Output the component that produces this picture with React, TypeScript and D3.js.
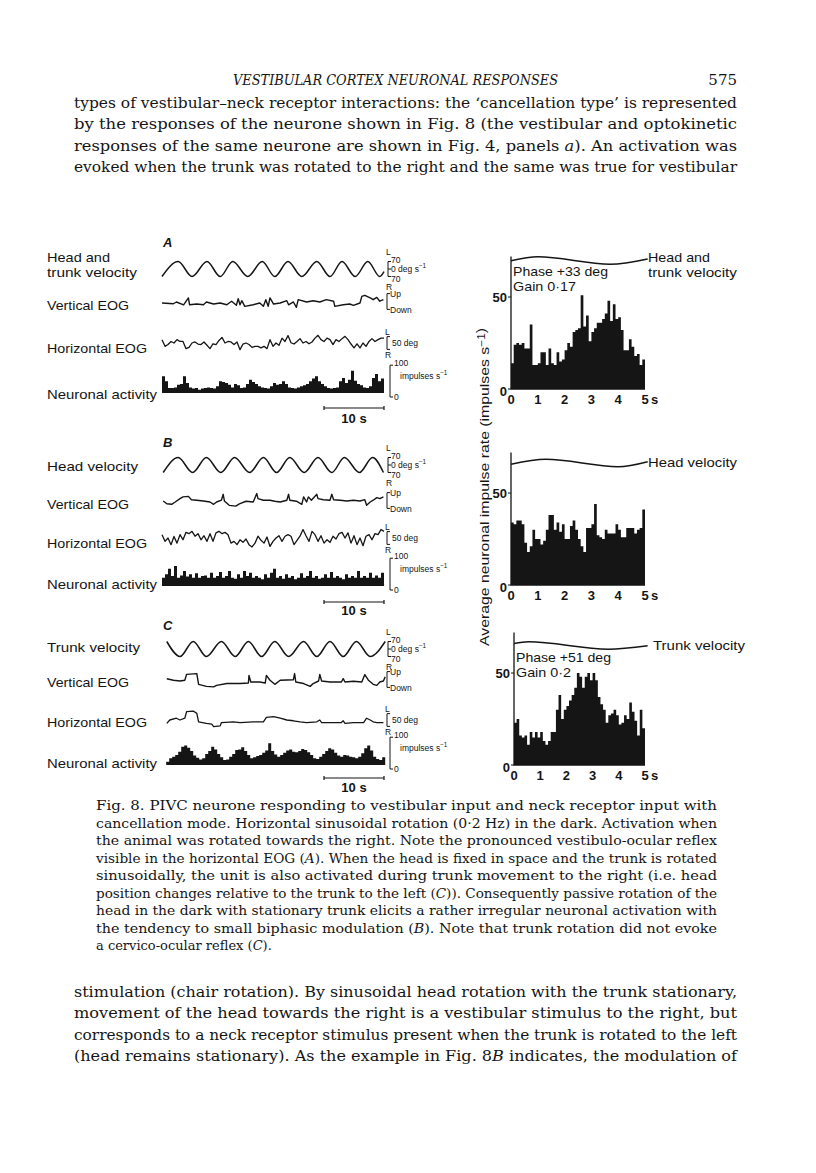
import React from 'react';
import * as d3 from 'd3';

const INK = '#151515';
const SANS = '"Liberation Sans", Arial, Helvetica, sans-serif';
const SERIF = '"DejaVu Serif", "Liberation Serif", serif';

// ---------- page text ----------
const HEADER = 'VESTIBULAR CORTEX NEURONAL RESPONSES';
const PAGE_NO = '575';
// _x_ marks italic
const TOP_LINES = [
  'types of vestibular–neck receptor interactions: the ‘cancellation type’ is represented',
  'by the responses of the neurone shown in Fig. 8 (the vestibular and optokinetic',
  'responses of the same neurone are shown in Fig. 4, panels _a_). An activation was',
  'evoked when the trunk was rotated to the right and the same was true for vestibular',
];
const CAPTION_LINES = [
  'Fig. 8. PIVC neurone responding to vestibular input and neck receptor input with',
  'cancellation mode. Horizontal sinusoidal rotation (0·2 Hz) in the dark. Activation when',
  'the animal was rotated towards the right. Note the pronounced vestibulo-ocular reflex',
  'visible in the horizontal EOG (_A_). When the head is fixed in space and the trunk is rotated',
  'sinusoidally, the unit is also activated during trunk movement to the right (i.e. head',
  'position changes relative to the trunk to the left (_C_)). Consequently passive rotation of the',
  'head in the dark with stationary trunk elicits a rather irregular neuronal activation with',
  'the tendency to small biphasic modulation (_B_). Note that trunk rotation did not evoke',
  'a cervico-ocular reflex (_C_).',
];
const BOTTOM_LINES = [
  'stimulation (chair rotation). By sinusoidal head rotation with the trunk stationary,',
  'movement of the head towards the right is a vestibular stimulus to the right, but',
  'corresponds to a neck receptor stimulus present when the trunk is rotated to the left',
  '(head remains stationary). As the example in Fig. 8_B_ indicates, the modulation of',
];

// ---------- left column traces (time in s) ----------
// stimulus velocity turning points [t, deg/s]
const velA = [[0, -70], [2.7, 70], [5, -70], [7.5, 70], [9.7, -70], [11.8, 70], [14.3, -70], [16.7, 70], [18.8, -70], [21, 70], [23.3, -70], [25.8, 70], [28, -70], [30, 70], [32.2, -70], [34.3, 70], [36.3, -70], [37, -25]];
const velB = [[0.2, -70], [2.7, 70], [5.1, -70], [7.4, 70], [9.8, -70], [12.1, 70], [14.6, -70], [16.9, 70], [19.1, -70], [21.3, 70], [23.7, -70], [26, 70], [28.3, -70], [30.4, 70], [32.9, -70], [35.1, 70], [36.9, -70]];
const velC = [[0.8, 70], [3, -70], [5.2, 70], [7.4, -70], [9.9, 70], [12.2, -70], [14.4, 70], [16.6, -70], [18.8, 70], [21.1, -70], [23.6, 70], [25.8, -70], [28, 70], [30.2, -70], [32.4, 70], [34.7, -70], [37.2, 70]];

// vertical EOG [t, deg]
const vEogA = [[0, 0], [1.9, -3], [2.4, 4], [3.6, -7], [4.4, 20], [4.6, -7], [5.8, -4], [6.9, -7], [7.4, 4], [8.6, -4], [9.7, 0], [10.8, -7], [11.6, 7], [12.4, -9], [12.7, 17], [13, -7], [13.3, 9], [13.8, -13], [15.2, -7], [16.3, 0], [16.9, -13], [17.3, 13], [17.7, -13], [18, 20], [18.6, -4], [19.7, 0], [20.8, 9], [21.1, -7], [21.9, 4], [22.4, -17], [22.7, 13], [24.1, 4], [25.2, 9], [26.3, 4], [27.4, 13], [28.6, 7], [28.8, -13], [30.2, -7], [31.3, -4], [31.9, -9], [33, 0], [33.3, 26], [33.8, 30], [34.7, 20], [35.2, 13], [35.8, 22], [36.3, 7], [36.9, 13]];
const vEogB = [[0.2, 4], [0.8, -7], [1.6, -9], [2.2, 0], [3, 13], [3.5, 20], [4.4, 22], [4.9, 9], [5.8, 7], [6.9, 4], [8, 0], [8.6, -9], [9.1, 0], [9.9, 7], [10.2, 30], [10.4, 4], [11.2, -13], [12.3, -16], [12.9, -7], [14, 3], [15.2, 0], [15.8, 33], [16, 13], [16.9, 7], [18, 7], [18.8, 3], [19.7, 0], [20.8, 7], [21.1, 30], [21.3, 7], [22.4, 3], [23.3, -9], [23.6, 20], [24.1, 0], [24.4, 20], [24.9, 7], [25.8, 30], [26, 13], [26.9, 9], [28, 7], [28.3, 30], [28.6, 9], [29.7, 7], [30.8, 4], [31.9, 7], [33, 4], [33.8, 9], [34.1, -13], [34.7, 0], [35.2, 7], [35.8, 17], [36.3, 13], [36.9, 20]];
const vEogC = [[0.8, 9], [1.9, 3], [3, 0], [3.8, 3], [4.1, 26], [5.8, 29], [6.1, -13], [7.4, -21], [8.6, -23], [9.1, -17], [10.8, -10], [13, -10], [14.4, -8], [14.5, 22], [14.8, -4], [16.3, -4], [17.2, -8], [17.4, 22], [18, 3], [18.8, -13], [19.7, 3], [21.9, 5], [22.1, 29], [22.3, -4], [23.6, -10], [24.7, -21], [25.2, -10], [26.1, 0], [26.3, 26], [26.6, 0], [28, -4], [29.9, -4], [30.2, 9], [30.5, -4], [31.9, -1], [33.3, -4], [33.8, 25], [34.4, 3], [35.2, -13], [35.8, -17], [36.3, -4], [36.9, 0], [37.2, 16]];

// horizontal EOG, sampled every 0.5 s (deg)
const EOG_STEP = 0.5;
const hEogA = [13, -13, -6, 6, 0, 13, 6, 6, -22, -17, 0, 4, -4, -6, 4, -9, -22, -3, -6, 10, 22, 0, 6, 4, -6, 4, -26, -4, 0, -6, -17, -13, -13, -19, -13, -22, 13, -13, 0, -9, 19, 6, 29, 1, -4, 6, 17, 0, 6, -3, 4, 19, 30, 13, 6, 19, 13, -6, 13, 6, 17, 26, 13, -4, -19, -3, -19, 0, -13, 6, 17, 6, 13, 19, 19];
const hEogB = [13, -13, 0, -26, 6, -20, 13, -7, 22, 17, 26, 7, 17, -7, 9, -13, 17, -13, 20, 26, 17, 22, 13, -20, -13, -26, -7, -17, -4, -26, -35, -20, 7, -9, -20, 4, -33, -13, 0, 9, -13, 7, 13, 7, -26, -9, 7, 33, 9, -13, 26, 13, -13, 9, -20, -7, -17, 7, -4, 17, 22, 0, 20, -20, 9, -26, 0, -30, 7, 13, -7, 17, 13, 33, 26];
const hEogC = [[0.8, -13], [1.3, 0], [2.4, 7], [3, 0], [3.8, 7], [4.1, 33], [5.2, 35], [5.8, 26], [6.1, -7], [7.4, -13], [8.3, -16], [8.6, -26], [9.7, -23], [9.9, -10], [11.9, -7], [13, -10], [15.2, -7], [16.9, -7], [17.4, 10], [18.6, 13], [19.7, 7], [20.8, 0], [21.9, -3], [23, -7], [24.1, -10], [25.8, -7], [26.3, 0], [26.6, -10], [28.6, -10], [29.9, -10], [30.2, -3], [30.5, -13], [31.9, -10], [33.6, -10], [34.1, 7], [34.7, 0], [35.2, -7], [35.8, -10], [36.9, -10]];

// neuronal activity, 0.5 s bins (impulses/s)
const ACT_STEP = 0.5;
const actA = [60, 42, 18, 18, 20, 30, 32, 60, 36, 20, 16, 18, 12, 16, 18, 20, 18, 16, 24, 42, 40, 36, 30, 20, 32, 28, 18, 20, 32, 48, 40, 32, 24, 20, 18, 16, 24, 36, 30, 32, 42, 32, 20, 18, 16, 20, 24, 28, 32, 42, 52, 60, 42, 32, 24, 18, 16, 18, 20, 42, 54, 36, 48, 80, 44, 32, 28, 20, 18, 24, 54, 68, 42, 52];
const actB = [30, 42, 62, 36, 72, 30, 38, 54, 34, 42, 30, 46, 30, 36, 38, 30, 48, 30, 36, 50, 30, 36, 54, 30, 26, 42, 30, 54, 36, 48, 30, 36, 30, 24, 42, 30, 48, 62, 30, 36, 26, 42, 30, 36, 24, 30, 46, 30, 36, 54, 30, 36, 26, 30, 42, 30, 50, 30, 36, 30, 24, 42, 30, 36, 30, 54, 30, 36, 30, 48, 30, 38, 30, 48];
const actC = [12, 24, 30, 36, 48, 66, 70, 62, 50, 34, 26, 20, 24, 40, 50, 66, 56, 40, 28, 18, 20, 30, 40, 54, 56, 64, 50, 36, 24, 28, 32, 36, 44, 52, 78, 50, 38, 30, 36, 44, 52, 56, 48, 46, 50, 58, 54, 46, 36, 24, 22, 30, 40, 50, 60, 56, 44, 34, 30, 36, 34, 30, 28, 24, 30, 42, 60, 70, 52, 30, 22, 18, 28];

// ---------- right column: averaged cycle histograms (0.1 s bins) ----------
const BIN = 0.1;
const histA = [14, 24, 25, 24, 25, 22, 22, 35, 13, 13, 14, 20, 20, 13, 22, 14, 13, 20, 15, 16, 21, 25, 23, 31, 32, 33, 51, 34, 40, 26, 31, 33, 36, 36, 38, 41, 48, 37, 46, 38, 39, 32, 21, 21, 27, 23, 18, 19, 13, 16];
const histB = [34, 33, 35, 35, 33, 23, 18, 21, 30, 25, 25, 22, 24, 30, 38, 38, 30, 34, 29, 33, 25, 25, 32, 35, 30, 25, 21, 18, 31, 31, 33, 44, 27, 26, 25, 30, 28, 28, 28, 33, 30, 26, 26, 31, 31, 31, 28, 30, 31, 41];
const histC = [23, 25, 16, 15, 16, 11, 18, 15, 18, 15, 18, 13, 11, 13, 18, 18, 30, 38, 25, 30, 32, 35, 38, 42, 50, 48, 42, 48, 50, 46, 50, 46, 37, 33, 30, 23, 27, 28, 30, 27, 22, 23, 27, 25, 34, 29, 24, 16, 30, 20];
// stimulus velocity over one cycle, turning points [t, deg/s]
const cycVelA = [[0, -5], [1.0, 70], [3.7, -70], [5.1, 30]];
const cycVelB = [[0, -25], [1.3, 70], [4.0, -70], [5.1, 25]];
const cycVelC = [[0, 40], [0.55, 70], [3.6, -70], [5.1, -5]];
const X_TICKS = [0, 1, 2, 3, 4, 5];
const Y_TICKS = [0, 50];

// ---------- helpers ----------
function Rich({ s }: { s: string }) {
  const parts = s.split('_');
  return (
    <>
      {parts.map((p, i) => (
        <tspan key={i} fontStyle={i % 2 ? 'italic' : undefined}>{p}</tspan>
      ))}
    </>
  );
}

function Para({ lines, x, y0, lh, width, size, justifyLast }: any) {
  return (
    <g fontFamily={SERIF} fontSize={size} fill={INK}>
      {lines.map((l: string, i: number) => {
        const last = i === lines.length - 1;
        const tl = last && !justifyLast ? undefined : width;
        return (
          <text key={i} x={x} y={y0 + i * lh} textLength={tl} lengthAdjust={tl ? 'spacingAndGlyphs' : undefined}>
            <Rich s={l} />
          </text>
        );
      })}
    </g>
  );
}

const Sup = ({ children }: any) => (
  <tspan dy={-4} fontSize="0.75em">{children}</tspan>
);

const xT = d3.scaleLinear().domain([0, 37]).range([162, 384]);
const SCALE_BAR = [27, 37];

function Label({ x, y, w, children }: any) {
  return (
    <text x={x} y={y} textLength={w} lengthAdjust="spacingAndGlyphs" fontFamily={SANS} fontSize={13} fill={INK}>
      {children}
    </text>
  );
}

function Panel({ p }: any) {
  const yVel = d3.scaleLinear().domain([-70, 70]).range([p.velY + 7.5, p.velY - 7.5]);
  const yV = d3.scaleLinear().domain([-50, 50]).range([p.vEogY + 12.8, p.vEogY - 12.8]);
  const yH = d3.scaleLinear().domain([-50, 50]).range([p.hEogY + 12.8, p.hEogY - 12.8]);
  const yAct = d3.scaleLinear().domain([0, 100]).range([p.actY, p.actY - 27.8]);

  const lineOf = (ys: any) => d3.line<any>().x((d) => xT(d[0])).y((d) => ys(d[1]));
  const velPath = lineOf(yVel).curve(d3.curveMonotoneX)(p.vel);
  const vPath = lineOf(yV)(p.vEog);
  const hPts = Array.isArray(p.hEog[0]) ? p.hEog : p.hEog.map((v: number, i: number) => [i * EOG_STEP, v]);
  const hPath = lineOf(yH)(hPts);
  const actPts = p.act.map((v: number, i: number) => [p.actT0 + i * ACT_STEP, v]);
  actPts.push([p.actT0 + p.act.length * ACT_STEP, p.act[p.act.length - 1]]);
  const actPath = d3
    .area<any>()
    .x((d) => xT(d[0]))
    .y0(yAct(0))
    .y1((d) => yAct(d[1]))
    .curve(d3.curveStepAfter)(actPts);

  const bx = 388;
  const small = { fontFamily: SANS, fontSize: 8.5, fill: INK } as any;
  const b0 = xT(SCALE_BAR[0]);
  const b1 = xT(SCALE_BAR[1]);

  return (
    <g>
      <text x={163} y={p.letterY} fontFamily={SANS} fontSize={13} fontStyle="italic" fontWeight={700} fill={INK}>
        {p.letter}
      </text>
      {p.velLabel.map((s: string, i: number) => (
        <Label key={i} x={47} y={p.velLabelY[i]} w={p.velLabelW[i]}>{s}</Label>
      ))}
      <Label x={47} y={p.vEogLabelY} w={82}>Vertical EOG</Label>
      <Label x={47} y={p.hEogLabelY} w={100}>Horizontal EOG</Label>
      <Label x={47} y={p.actLabelY} w={110}>Neuronal activity</Label>

      <g fill="none" stroke={INK} strokeWidth={1.5} strokeLinejoin="round">
        <path d={velPath || ''} />
        <path d={vPath || ''} strokeWidth={1.4} />
        <path d={hPath || ''} strokeWidth={1.3} />
      </g>
      <path d={actPath || ''} fill={INK} />

      {/* velocity calibration */}
      <path
        d={`M${bx + 3},${yVel(70)}H${bx}V${yVel(-70)}H${bx + 3}M${bx},${yVel(0)}H${bx + 3}`}
        fill="none" stroke={INK} strokeWidth={1}
      />
      <text {...small} x={bx - 2} y={yVel(70) - 7}>L</text>
      <text {...small} x={bx + 3} y={yVel(70) + 1}>70</text>
      <text {...small} x={bx + 3} y={yVel(0) + 3}>0 deg s<Sup>−1</Sup></text>
      <text {...small} x={bx + 3} y={yVel(-70) + 5}>70</text>
      <text {...small} x={bx - 2} y={yVel(-70) + 13}>R</text>

      {/* vertical EOG calibration */}
      <path
        d={`M${bx + 2},${yV(25) - 3}H${bx - 1}V${yV(-25)}H${bx + 2}`}
        fill="none" stroke={INK} strokeWidth={1}
      />
      <text {...small} x={bx + 2} y={yV(25)}>Up</text>
      <text {...small} x={bx + 2} y={yV(-25) + 4}>Down</text>

      {/* horizontal EOG calibration */}
      <path
        d={`M${bx + 2},${yH(25)}H${bx - 1}V${yH(-25)}H${bx + 2}`}
        fill="none" stroke={INK} strokeWidth={1}
      />
      <text {...small} x={bx - 3} y={yH(25) - 2}>L</text>
      <text {...small} x={bx + 4} y={yH(0) + 3}>50 deg</text>
      <text {...small} x={bx - 3} y={yH(-25) + 9}>R</text>

      {/* activity calibration */}
      <path
        d={`M${bx + 5},${yAct(100)}H${bx + 2}V${yAct(0) + 4}H${bx + 5}`}
        fill="none" stroke={INK} strokeWidth={1}
      />
      <text {...small} x={bx + 6} y={yAct(100) + 1}>100</text>
      <text {...small} x={bx + 12} y={yAct(50)}>impulses s<Sup>−1</Sup></text>
      <text {...small} x={bx + 6} y={yAct(0) + 7}>0</text>

      {/* time bar */}
      <path d={`M${b0},${p.barY - 2}V${p.barY + 2}M${b0},${p.barY}H${b1}M${b1},${p.barY - 2}V${p.barY + 2}`} stroke={INK} strokeWidth={1.2} fill="none" />
      <text x={(b0 + b1) / 2} y={p.barTextY} textAnchor="middle" fontFamily={SANS} fontSize={13} fontWeight={700} fill={INK}>
        10 s
      </text>
    </g>
  );
}

const PANELS = [
  {
    letter: 'A', letterY: 247,
    velLabel: ['Head and', 'trunk velocity'], velLabelY: [262, 277], velLabelW: [63, 90],
    vel: velA, velY: 269,
    vEog: vEogA, vEogY: 303, vEogLabelY: 310,
    hEog: hEogA, hEogY: 343, hEogLabelY: 353,
    act: actA, actT0: 0, actY: 393, actLabelY: 399,
    barY: 408, barTextY: 423,
  },
  {
    letter: 'B', letterY: 447,
    velLabel: ['Head velocity'], velLabelY: [471], velLabelW: [91],
    vel: velB, velY: 465,
    vEog: vEogB, vEogY: 502, vEogLabelY: 509,
    hEog: hEogB, hEogY: 538, hEogLabelY: 548,
    act: actB, actT0: 0, actY: 586, actLabelY: 589,
    barY: 602, barTextY: 615,
  },
  {
    letter: 'C', letterY: 630,
    velLabel: ['Trunk velocity'], velLabelY: [652], velLabelW: [93],
    vel: velC, velY: 649,
    vEog: vEogC, vEogY: 681, vEogLabelY: 687,
    hEog: hEogC, hEogY: 720, hEogLabelY: 727,
    act: actC, actT0: 0.7, actY: 765, actLabelY: 768,
    barY: 778, barTextY: 792,
  },
];

function CycleHist({ h }: any) {
  const x = d3.scaleLinear().domain([0, 5]).range([h.x0, 645]);
  const y = d3.scaleLinear().domain([0, 50]).range([h.y0, h.y0 - 92]);
  const yVel = d3.scaleLinear().domain([-70, 70]).range([h.velY + 3.7, h.velY - 3.7]);
  const pts = h.bins.map((v: number, i: number) => [i * BIN, v]);
  pts.push([h.bins.length * BIN, h.bins[h.bins.length - 1]]);
  const bars = d3
    .area<any>()
    .x((d) => x(d[0]))
    .y0(y(0))
    .y1((d) => y(d[1]))
    .curve(d3.curveStepAfter)(pts);
  const vel = d3
    .line<any>()
    .x((d) => x(d[0]))
    .y((d) => yVel(d[1]))
    .curve(d3.curveMonotoneX)(h.vel);
  const tickStyle = { fontFamily: SANS, fontSize: 13, fontWeight: 700, fill: INK } as any;
  return (
    <g>
      <path d={bars || ''} fill={INK} />
      <path d={`M${x(0)},${y(72)}V${y(0)}H${x(5)}`} fill="none" stroke={INK} strokeWidth={1.3} />
      {Y_TICKS.map((t) => (
        <g key={t}>
          <path d={`M${x(0) - 3},${y(t)}H${x(0)}`} stroke={INK} strokeWidth={1} />
          <text {...tickStyle} x={x(0) - 4} y={y(t) + (t === 0 ? 7 : 5)} textAnchor="end">{t}</text>
        </g>
      ))}
      {X_TICKS.map((t) => (
        <text key={t} {...tickStyle} x={x(t)} y={y(0) + 14.5} textAnchor="middle">{t}</text>
      ))}
      <text {...tickStyle} x={x(5) + 6} y={y(0) + 14.5}>s</text>
      <path d={vel || ''} fill="none" stroke={INK} strokeWidth={1.5} />
      {h.label.map((s: string, i: number) => (
        <Label key={i} x={h.labelX} y={h.labelY + i * 15} w={h.labelW[i]}>{s}</Label>
      ))}
      {h.phase && (
        <g>
          <Label x={x(0) + 2} y={h.phaseY} w={95}>{h.phase}</Label>
          <Label x={x(0) + 2} y={h.phaseY + 14.5} w={h.gainW}>{h.gain}</Label>
        </g>
      )}
    </g>
  );
}

const HISTS = [
  { bins: histA, vel: cycVelA, x0: 511, y0: 389, velY: 260.5, label: ['Head and', 'trunk velocity'], labelX: 648, labelY: 262, labelW: [62, 89], phase: 'Phase +33 deg', gain: 'Gain 0·17', phaseY: 276, gainW: 63 },
  { bins: histB, vel: cycVelB, x0: 511, y0: 585, velY: 463, label: ['Head velocity'], labelX: 648, labelY: 467, labelW: [89] },
  { bins: histC, vel: cycVelC, x0: 514, y0: 765, velY: 645.5, label: ['Trunk velocity'], labelX: 653, labelY: 650, labelW: [92], phase: 'Phase +51 deg', gain: 'Gain 0·2', phaseY: 662, gainW: 55 },
];

export default function App() {
  return (
    <svg
      width={816}
      height={1173}
      viewBox="0 0 816 1173"
      style={{ position: 'absolute', left: 0, top: 0, background: '#fff' }}
    >
      <rect width={816} height={1173} fill="#fff" />
      <text x={233} y={85} fontFamily={SERIF} fontStyle="italic" fontSize={15} textLength={325} lengthAdjust="spacingAndGlyphs" fill={INK}>
        {HEADER}
      </text>
      <text x={737} y={85} textAnchor="end" fontFamily={SERIF} fontSize={15} fill={INK}>{PAGE_NO}</text>

      <Para lines={TOP_LINES} x={74} y0={108} lh={21.3} width={663} size={14.5} justifyLast />

      {PANELS.map((p) => (
        <Panel key={p.letter} p={p} />
      ))}
      {HISTS.map((h, i) => (
        <CycleHist key={i} h={h} />
      ))}
      <text
        transform="translate(489,487) rotate(-90)"
        textAnchor="middle"
        fontFamily={SANS}
        fontSize={13.5}
        textLength={318}
        lengthAdjust="spacingAndGlyphs"
        fill={INK}
      >
        Average neuronal impulse rate (impulses s<Sup>−1</Sup>)
      </text>

      <Para lines={CAPTION_LINES} x={96} y0={810} lh={17.5} width={621} size={13} />
      <Para lines={BOTTOM_LINES} x={74} y0={997} lh={21.3} width={663} size={14.5} justifyLast />
    </svg>
  );
}
